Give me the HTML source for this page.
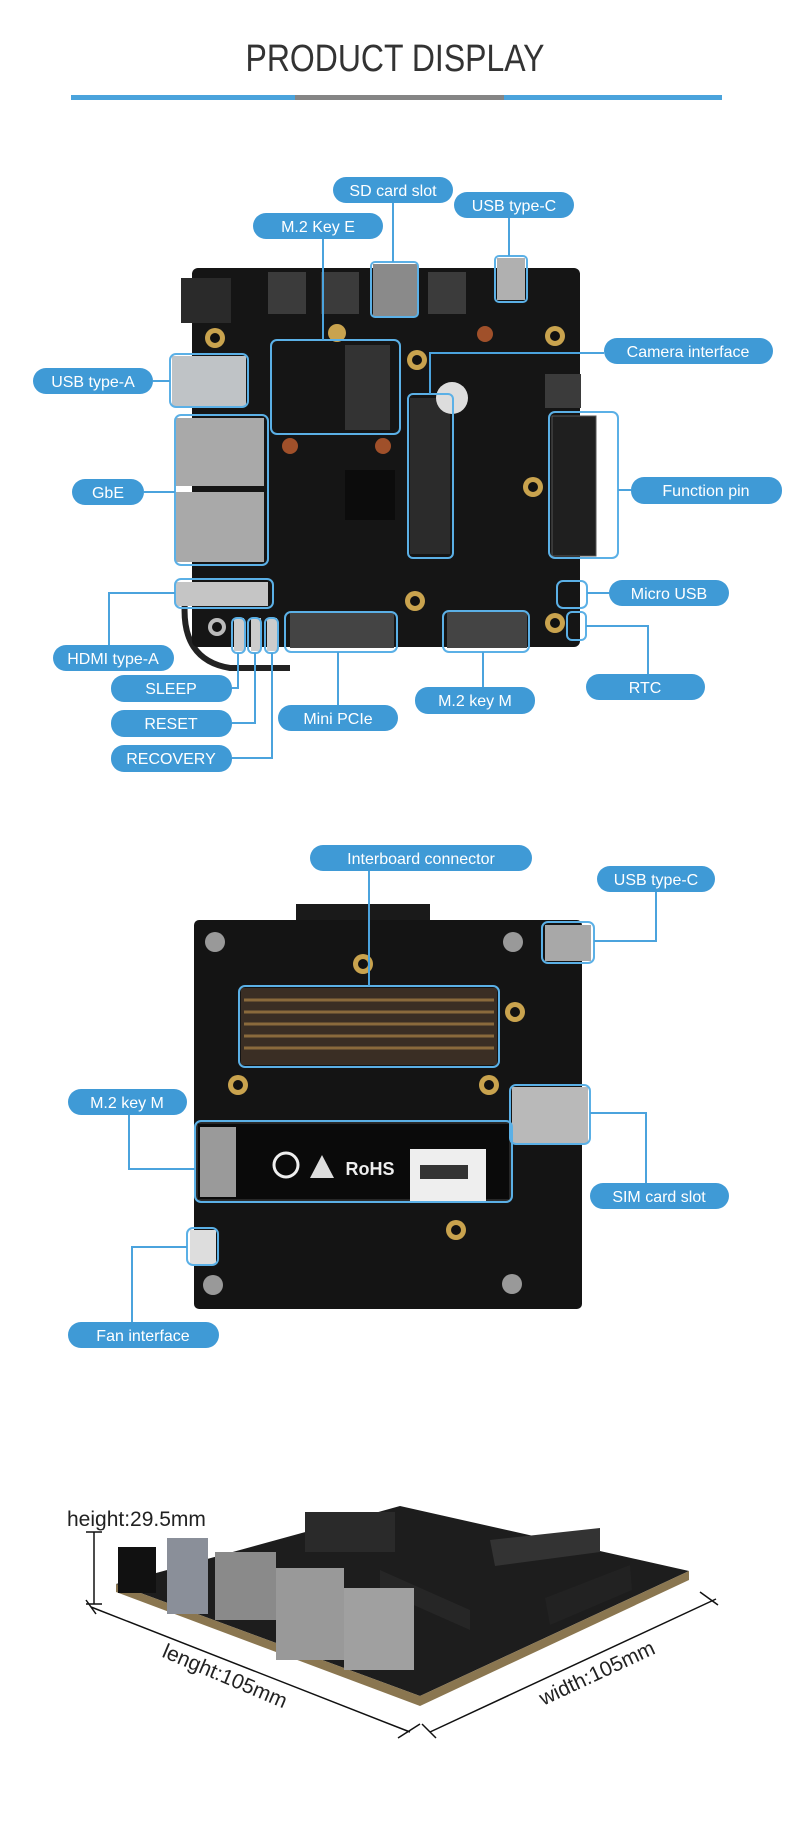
<!DOCTYPE html>
<html><head><meta charset="utf-8"><style>
html,body{margin:0;padding:0;background:#fff;}
svg{display:block;}
.lb{fill:#3f9ad6;}
.lt{fill:#fff;font-family:"Liberation Sans",sans-serif;font-size:16px;text-anchor:middle;}
.ln{stroke:#4ba3dd;stroke-width:2;fill:none;}
.bx{stroke:#5bb0e6;stroke-width:2;fill:none;}
</style></head><body>
<svg width="790" height="1847" viewBox="0 0 790 1847" xmlns="http://www.w3.org/2000/svg">
<rect width="790" height="1847" fill="#fff"/>
<text x="395" y="71" text-anchor="middle" font-family="Liberation Sans, sans-serif" font-size="38" fill="#333" textLength="299" lengthAdjust="spacingAndGlyphs">PRODUCT DISPLAY</text>
<rect x="71" y="95" width="651" height="5" fill="#4aa3dc"/>
<rect x="295" y="95" width="209" height="5" fill="#858585"/>

<!-- BOARD 1 -->
<g>
<path d="M185 600 Q180 660 230 668 L290 668" stroke="#222" stroke-width="6" fill="none"/>
<rect x="192" y="268" width="388" height="379" rx="6" fill="#151515"/>
<rect x="181" y="278" width="50" height="45" fill="#2a2a2a"/>
<rect x="268" y="272" width="38" height="42" fill="#3b3b3b"/>
<rect x="321" y="272" width="38" height="42" fill="#3b3b3b"/>
<rect x="428" y="272" width="38" height="42" fill="#3b3b3b"/>
<rect x="373" y="264" width="44" height="52" fill="#8a8a8a"/>
<rect x="497" y="258" width="28" height="42" fill="#b0b0b0"/>
<rect x="545" y="374" width="36" height="34" fill="#3b3b3b"/>
<rect x="172" y="356" width="74" height="50" fill="#bfc3c6"/>
<rect x="176" y="418" width="88" height="68" fill="#a9a9a9"/>
<rect x="176" y="492" width="88" height="70" fill="#a9a9a9"/>
<rect x="176" y="582" width="92" height="24" fill="#c5c5c5"/>
<rect x="410" y="398" width="40" height="156" fill="#2b2b2b"/>
<rect x="552" y="416" width="44" height="140" fill="#1f1f1f" stroke="#555"/>
<rect x="290" y="612" width="104" height="36" fill="#444"/>
<rect x="447" y="612" width="80" height="36" fill="#444"/>
<rect x="345" y="345" width="45" height="85" fill="#333"/>
<rect x="345" y="470" width="50" height="50" fill="#0c0c0c"/>
<circle cx="417" cy="360" r="10" fill="#c9a34e"/><circle cx="417" cy="360" r="5" fill="#111"/>
<circle cx="533" cy="487" r="10" fill="#c9a34e"/><circle cx="533" cy="487" r="5" fill="#111"/>
<circle cx="415" cy="601" r="10" fill="#c9a34e"/><circle cx="415" cy="601" r="5" fill="#111"/>
<circle cx="555" cy="623" r="10" fill="#c9a34e"/><circle cx="555" cy="623" r="5" fill="#111"/>
<circle cx="215" cy="338" r="10" fill="#c9a34e"/><circle cx="215" cy="338" r="5" fill="#111"/>
<circle cx="555" cy="336" r="10" fill="#c9a34e"/><circle cx="555" cy="336" r="5" fill="#111"/>
<circle cx="337" cy="333" r="9" fill="#c9a34e"/>
<circle cx="290" cy="446" r="8" fill="#a0502a"/><circle cx="383" cy="446" r="8" fill="#a0502a"/>
<circle cx="485" cy="334" r="8" fill="#a0502a"/>
<circle cx="217" cy="627" r="9" fill="#bbb"/><circle cx="217" cy="627" r="5" fill="#111"/>
<circle cx="452" cy="398" r="16" fill="#ddd"/>
<rect x="234" y="618" width="10" height="33" fill="#ccc"/><rect x="251" y="618" width="10" height="33" fill="#ccc"/><rect x="267" y="618" width="10" height="33" fill="#ccc"/>
</g>
<g>
<rect class="bx" x="371" y="262" width="47" height="55" rx="4"/>
<rect class="bx" x="495" y="256" width="32" height="46" rx="4"/>
<rect class="bx" x="271" y="340" width="129" height="94" rx="6"/>
<rect class="bx" x="170" y="354" width="78" height="53" rx="6"/>
<rect class="bx" x="175" y="415" width="93" height="150" rx="6"/>
<rect class="bx" x="408" y="394" width="45" height="164" rx="5"/>
<rect class="bx" x="549" y="412" width="69" height="146" rx="6"/>
<rect class="bx" x="175" y="579" width="98" height="29" rx="6"/>
<rect class="bx" x="232" y="618" width="13" height="35" rx="5"/>
<rect class="bx" x="248" y="618" width="13" height="35" rx="5"/>
<rect class="bx" x="265" y="618" width="13" height="35" rx="5"/>
<rect class="bx" x="285" y="612" width="112" height="40" rx="6"/>
<rect class="bx" x="443" y="611" width="86" height="41" rx="6"/>
<rect class="bx" x="557" y="581" width="30" height="27" rx="6"/>
<rect class="bx" x="567" y="612" width="19" height="28" rx="5"/>
</g>
<g>
<path class="ln" d="M393 202 V262"/>
<path class="ln" d="M509 218 V256"/>
<path class="ln" d="M323 239 V340"/>
<path class="ln" d="M604 353 H430 V394"/>
<path class="ln" d="M153 381 H170"/>
<path class="ln" d="M144 492 H175"/>
<path class="ln" d="M631 490 H618"/>
<path class="ln" d="M609 593 H587"/>
<path class="ln" d="M109 645 V593 H175"/>
<path class="ln" d="M232 688 H238 V653"/>
<path class="ln" d="M232 723 H255 V653"/>
<path class="ln" d="M232 758 H272 V653"/>
<path class="ln" d="M338 705 V652"/>
<path class="ln" d="M483 687 V652"/>
<path class="ln" d="M648 674 V626 H586"/>
</g>
<g>
<rect class="lb" x="333" y="177" width="120" height="26" rx="13"/><text class="lt" x="393" y="196">SD card slot</text>
<rect class="lb" x="454" y="192" width="120" height="26" rx="13"/><text class="lt" x="514" y="211">USB type-C</text>
<rect class="lb" x="253" y="213" width="130" height="26" rx="13"/><text class="lt" x="318" y="232">M.2 Key E</text>
<rect class="lb" x="604" y="338" width="169" height="26" rx="13"/><text class="lt" x="688" y="357">Camera interface</text>
<rect class="lb" x="33" y="368" width="120" height="26" rx="13"/><text class="lt" x="93" y="387">USB type-A</text>
<rect class="lb" x="72" y="479" width="72" height="26" rx="13"/><text class="lt" x="108" y="498">GbE</text>
<rect class="lb" x="631" y="477" width="151" height="27" rx="13"/><text class="lt" x="706" y="496">Function pin</text>
<rect class="lb" x="609" y="580" width="120" height="26" rx="13"/><text class="lt" x="669" y="599">Micro USB</text>
<rect class="lb" x="53" y="645" width="121" height="26" rx="13"/><text class="lt" x="113" y="664">HDMI type-A</text>
<rect class="lb" x="111" y="675" width="121" height="27" rx="13"/><text class="lt" x="171" y="694">SLEEP</text>
<rect class="lb" x="111" y="710" width="121" height="27" rx="13"/><text class="lt" x="171" y="729">RESET</text>
<rect class="lb" x="111" y="745" width="121" height="27" rx="13"/><text class="lt" x="171" y="764">RECOVERY</text>
<rect class="lb" x="278" y="705" width="120" height="26" rx="13"/><text class="lt" x="338" y="724">Mini PCIe</text>
<rect class="lb" x="415" y="687" width="120" height="27" rx="13"/><text class="lt" x="475" y="706">M.2 key M</text>
<rect class="lb" x="586" y="674" width="119" height="26" rx="13"/><text class="lt" x="645" y="693">RTC</text>
</g>

<!-- BOARD 2 -->
<g>
<rect x="296" y="904" width="134" height="20" fill="#1a1a1a"/>
<rect x="194" y="920" width="388" height="389" rx="5" fill="#141414"/>
<rect x="241" y="988" width="256" height="77" fill="#3a2e24"/>
<g stroke="#8a6a3c" stroke-width="3">
<line x1="244" y1="1000" x2="494" y2="1000"/><line x1="244" y1="1012" x2="494" y2="1012"/><line x1="244" y1="1024" x2="494" y2="1024"/><line x1="244" y1="1036" x2="494" y2="1036"/><line x1="244" y1="1048" x2="494" y2="1048"/>
</g>
<rect x="197" y="1123" width="313" height="77" fill="#0a0a0a" stroke="#444"/>
<rect x="200" y="1127" width="36" height="70" fill="#9a9a9a"/>
<rect x="410" y="1149" width="76" height="54" fill="#eee"/>
<rect x="420" y="1165" width="48" height="14" fill="#333"/>
<text x="370" y="1175" font-family="Liberation Sans, sans-serif" font-weight="bold" font-size="18" fill="#eee" text-anchor="middle">RoHS</text>
<circle cx="286" cy="1165" r="12" fill="none" stroke="#eee" stroke-width="3"/>
<path d="M310 1178 L322 1155 L334 1178 Z" fill="#ddd"/>
<rect x="512" y="1087" width="76" height="56" fill="#b9b9b9"/>
<rect x="545" y="925" width="46" height="36" fill="#a8a8a8"/>
<circle cx="215" cy="942" r="10" fill="#999"/><circle cx="513" cy="942" r="10" fill="#999"/>
<circle cx="363" cy="964" r="10" fill="#c9a34e"/><circle cx="363" cy="964" r="5" fill="#111"/>
<circle cx="515" cy="1012" r="10" fill="#c9a34e"/><circle cx="515" cy="1012" r="5" fill="#111"/>
<circle cx="238" cy="1085" r="10" fill="#c9a34e"/><circle cx="238" cy="1085" r="5" fill="#111"/>
<circle cx="489" cy="1085" r="10" fill="#c9a34e"/><circle cx="489" cy="1085" r="5" fill="#111"/>
<circle cx="456" cy="1230" r="10" fill="#c9a34e"/><circle cx="456" cy="1230" r="5" fill="#111"/>
<circle cx="213" cy="1285" r="10" fill="#999"/><circle cx="512" cy="1284" r="10" fill="#999"/>
<rect x="190" y="1230" width="26" height="34" fill="#ddd"/>
</g>
<g>
<rect class="bx" x="239" y="986" width="260" height="81" rx="6"/>
<rect class="bx" x="542" y="922" width="52" height="41" rx="6"/>
<rect class="bx" x="510" y="1085" width="80" height="59" rx="6"/>
<rect class="bx" x="195" y="1121" width="317" height="81" rx="6"/>
<rect class="bx" x="187" y="1228" width="31" height="37" rx="6"/>
<path class="ln" d="M369 870 V986"/>
<path class="ln" d="M656 892 V941 H594"/>
<path class="ln" d="M129 1115 V1169 H195"/>
<path class="ln" d="M646 1183 V1113 H590"/>
<path class="ln" d="M132 1322 V1247 H187"/>
<rect class="lb" x="310" y="845" width="222" height="26" rx="13"/><text class="lt" x="421" y="864">Interboard connector</text>
<rect class="lb" x="597" y="866" width="118" height="26" rx="13"/><text class="lt" x="656" y="885">USB type-C</text>
<rect class="lb" x="68" y="1089" width="119" height="26" rx="13"/><text class="lt" x="127" y="1108">M.2 key M</text>
<rect class="lb" x="590" y="1183" width="139" height="26" rx="13"/><text class="lt" x="659" y="1202">SIM card slot</text>
<rect class="lb" x="68" y="1322" width="151" height="26" rx="13"/><text class="lt" x="143" y="1341">Fan interface</text>
</g>

<!-- BOARD 3 -->
<g>
<path d="M116 1584 L420 1696 L689 1571 L400 1506 Z" fill="#1d1d1d"/>
<path d="M116 1584 L420 1696 L689 1571 L689 1580 L420 1706 L116 1592 Z" fill="#8a7650"/>
<rect x="305" y="1512" width="90" height="40" fill="#2a2a2a"/>
<path d="M490 1540 L600 1528 L600 1552 L495 1566 Z" fill="#333"/>
<path d="M380 1570 L470 1610 L470 1630 L380 1590 Z" fill="#262626"/>
<path d="M545 1598 L630 1565 L632 1590 L550 1625 Z" fill="#222"/>
<rect x="118" y="1547" width="38" height="46" fill="#111"/>
<rect x="167" y="1538" width="41" height="76" fill="#8a8f99"/>
<rect x="215" y="1552" width="61" height="68" fill="#8a8a8a"/>
<rect x="276" y="1568" width="68" height="92" fill="#999"/>
<rect x="344" y="1588" width="70" height="82" fill="#a0a0a0"/>
</g>
<g stroke="#111" stroke-width="1.5" fill="none">
<line x1="94" y1="1532" x2="94" y2="1604"/>
<line x1="86" y1="1532" x2="102" y2="1532"/>
<line x1="86" y1="1604" x2="102" y2="1604"/>
<line x1="91" y1="1607" x2="410" y2="1732"/>
<line x1="86" y1="1600" x2="96" y2="1614"/>
<line x1="398" y1="1738" x2="420" y2="1724"/>
<line x1="430" y1="1732" x2="716" y2="1599"/>
<line x1="422" y1="1724" x2="436" y2="1738"/>
<line x1="700" y1="1592" x2="718" y2="1605"/>
</g>
<text x="67" y="1526" font-family="Liberation Sans, sans-serif" font-size="21" fill="#222">height:29.5mm</text>
<text x="225" y="1683" font-family="Liberation Sans, sans-serif" font-size="21" fill="#222" text-anchor="middle" transform="rotate(23 225 1676)">lenght:105mm</text>
<text x="597" y="1680" font-family="Liberation Sans, sans-serif" font-size="21" fill="#222" text-anchor="middle" transform="rotate(-25 597 1673)">width:105mm</text>
</svg>
</body></html>
